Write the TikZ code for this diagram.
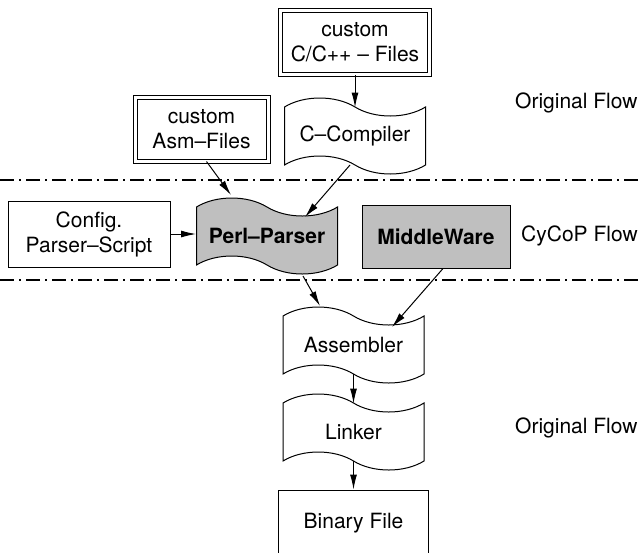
\documentclass[tikz,border=0pt]{standalone}
\usepackage{fontspec}
\setmainfont{TeX Gyre Heros}
\usetikzlibrary{shapes.symbols,positioning,arrows.meta,calc}

\definecolor{cycopgray}{gray}{0.75}

\tikzset{
  file/.style={draw,double,double distance=1.5pt,minimum width=74.5pt,minimum height=32pt,align=center,inner sep=1pt},
  box/.style={draw,minimum width=75pt,minimum height=32pt,align=center,inner sep=1pt},
  tool/.style={tape,draw,fill=white,tape bend top=out and in,tape bend bottom=out and in,
    tape bend height=9pt,minimum width=70.5pt,minimum height=38pt,inner sep=1pt},
  cycop/.style={fill=cycopgray,font=\fontsize{10.5}{12.5}\selectfont\bfseries},
  layer/.style={line width=1pt,dash pattern=on 7pt off 2.5pt on 1pt off 2.5pt},
  flow/.style={anchor=west}
}

\begin{document}
\begin{tikzpicture}[x=0.5pt,y=-0.5pt,>={Latex[length=7.5pt,width=3.5pt]},line width=0.5pt,
  font=\fontsize{10.5}{12.5}\selectfont]
\useasboundingbox (0,0) rectangle (640,552);

% layer separators
\draw[layer] (0,180) -- (640,180);
\draw[layer] (0,280) -- (640,280);

% original flow (top)
\node[file] (cfiles) at (355,42.5) {custom\\C/C++ -- Files};
\node[tool] (ccomp) at (355,136) {C--Compiler};
\node[file,minimum width=66.5pt] (asmfiles) at (201.5,129) {custom\\Asm--Files};

% cycop flow
\node[box,minimum width=81pt,minimum height=33pt] (config) at (89,234) {Config.\\Parser--Script};
\node[tool,cycop] (perl) at (267,236) {Perl--Parser};
\node[box,cycop,minimum width=74pt,minimum height=31.5pt] (mw) at (436,236.5) {MiddleWare};

% original flow (bottom)
\node[tool] (asm) at (353.5,345) {Assembler};
\node[tool] (linker) at (353.5,432) {Linker};
\node[box,minimum height=33pt] (binary) at (353.5,523) {Binary File};

% flow labels
\node[flow] (orig1) at (508,103) {Original Flow};
\node[flow] (cycop) at (514,236) {CyCoP Flow};
\node[flow] (orig2) at (508,428) {Original Flow};

% connections
\draw[->] (cfiles.south) -- ($(ccomp.center)+(0,-28.5)$);
\draw[->] ($(ccomp.center)+(-5,29)$) -- ($(perl.center)+(38,-19)$);
\draw[->] ($(asmfiles.south)+(5,0)$) -- ($(perl.center)+(-36,-41)$);
\draw[->] (config.east) -- (config.east -| perl.west);
\draw[->] ($(perl.center)+(36,40)$) -- ($(asm.center)+(-33.5,-39)$);
\draw[->] ($(mw.south)+(7,0)$) -- ($(asm.center)+(38.5,-18)$);
\draw[->] ($(asm.center)+(0,28.5)$) -- ($(linker.center)+(0,-28.5)$);
\draw[->] ($(linker.center)+(0,28.5)$) -- (binary.north);
\end{tikzpicture}
\end{document}
